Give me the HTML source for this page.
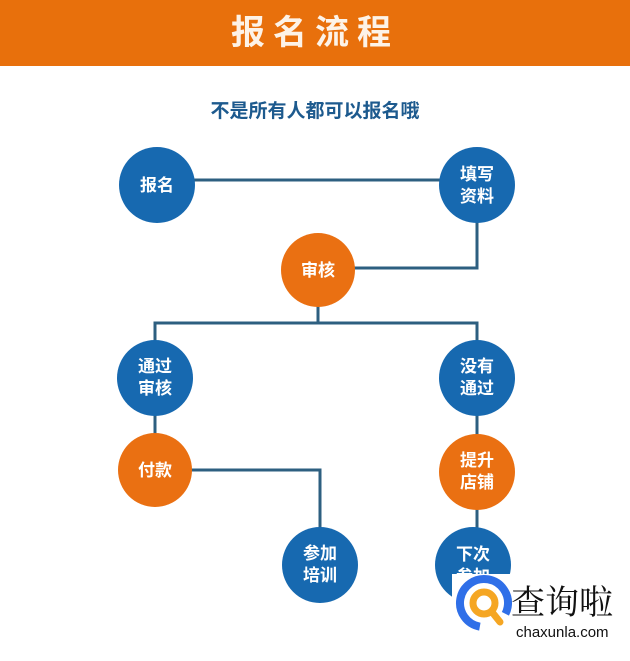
<!DOCTYPE html>
<html><head><meta charset="utf-8"><style>
body{margin:0;width:630px;height:661px;background:#fff;overflow:hidden;position:relative;font-family:"Liberation Sans","Noto Sans CJK SC",sans-serif}
.hd{position:absolute;left:0;top:0;width:630px;height:66px;background:#e8700c;color:#fdf3e8;font-size:34px;font-weight:bold;text-align:center;line-height:66px;letter-spacing:8px}
.sub{position:absolute;left:0;top:96px;width:630px;text-align:center;color:#1d5a8e;font-size:19px;font-weight:bold}
.wm{position:absolute;left:452px;top:574px;width:178px;height:87px;background:#fff}
</style></head><body>
<div class="hd">报名流程</div>
<div class="sub">不是所有人都可以报名哦</div>
<svg width="630" height="661" style="position:absolute;left:0;top:0">
<g stroke="#2d5f80" stroke-width="3" fill="none">
<line x1="157" y1="180" x2="477" y2="180"/>
<polyline points="318,268 477,268 477,185"/>
<line x1="318" y1="270" x2="318" y2="323"/>
<polyline points="155,380 155,323 477,323 477,380"/>
<line x1="155" y1="378" x2="155" y2="470"/>
<line x1="477" y1="378" x2="477" y2="560"/>
<polyline points="155,470 320,470 320,565"/>
</g>
<g font-family="Liberation Sans,Noto Sans CJK SC,sans-serif" font-size="17" font-weight="bold" fill="#fff" text-anchor="middle">
<circle cx="157" cy="185" r="38" fill="#1769b0"/><text x="157" y="191">报名</text>
<circle cx="477" cy="185" r="38" fill="#1769b0"/><text x="477" y="180">填写</text><text x="477" y="202">资料</text>
<circle cx="318" cy="270" r="37" fill="#ea7012"/><text x="318" y="276">审核</text>
<circle cx="155" cy="378" r="38" fill="#1769b0"/><text x="155" y="372">通过</text><text x="155" y="394">审核</text>
<circle cx="477" cy="378" r="38" fill="#1769b0"/><text x="477" y="372">没有</text><text x="477" y="394">通过</text>
<circle cx="155" cy="470" r="37" fill="#ea7012"/><text x="155" y="476">付款</text>
<circle cx="477" cy="472" r="38" fill="#ea7012"/><text x="477" y="466">提升</text><text x="477" y="488">店铺</text>
<circle cx="320" cy="565" r="38" fill="#1769b0"/><text x="320" y="559">参加</text><text x="320" y="581">培训</text>
<circle cx="473" cy="565" r="38" fill="#1769b0"/><text x="473" y="560">下次</text><text x="473" y="582">参加</text>
</g>
</svg>
<div class="wm"></div>
<svg width="630" height="661" style="position:absolute;left:0;top:0">
<circle cx="484" cy="603" r="24" fill="none" stroke="#2f6fe8" stroke-width="8" stroke-dasharray="120 40" transform="rotate(100 484 603)"/>
<circle cx="484" cy="603" r="11" fill="none" stroke="#f5a623" stroke-width="7"/>
<line x1="492" y1="612" x2="500" y2="622" stroke="#f5a623" stroke-width="7" stroke-linecap="round"/>
<text x="511" y="614" font-family="Noto Serif CJK SC,serif" font-size="34" fill="#111">查询啦</text>
<text x="516" y="637" font-family="Liberation Sans,sans-serif" font-size="15" fill="#111">chaxunla.com</text>
</svg>
</body></html>
